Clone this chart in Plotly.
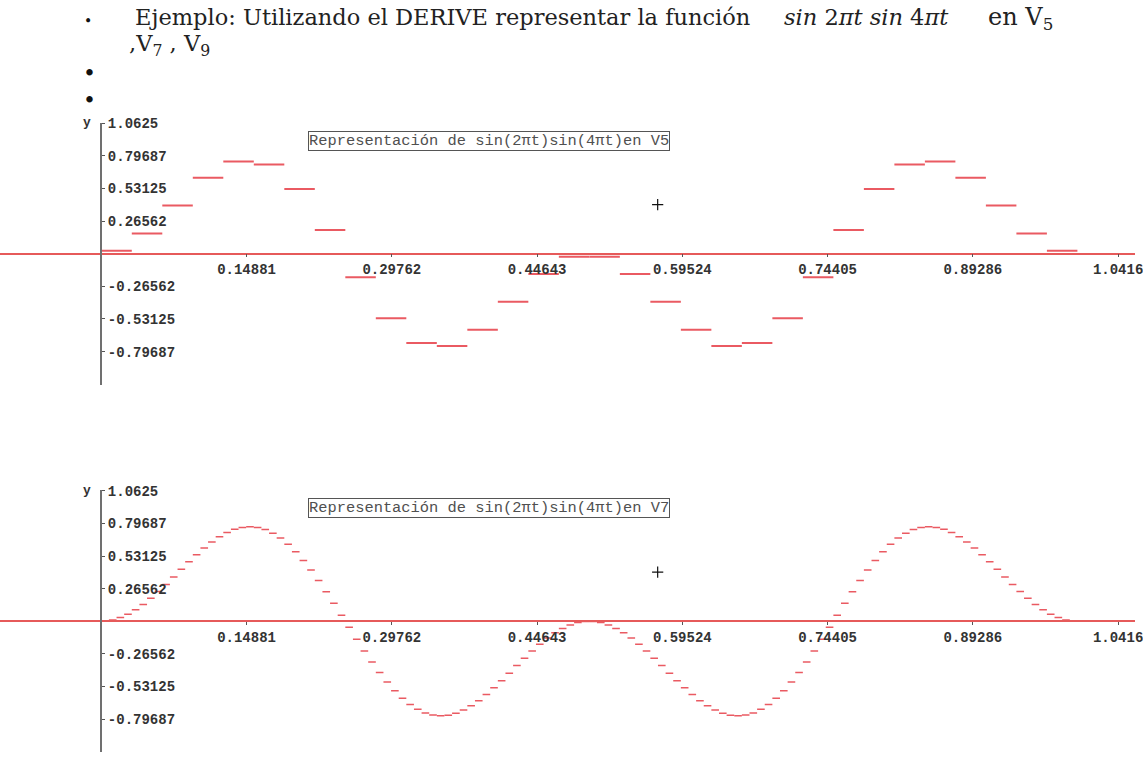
import plotly.graph_objects as go

W, H = 1143, 757

# ---------------- data ----------------
x_ticks = [0.14881, 0.29762, 0.44643, 0.59524, 0.74405, 0.89286, 1.04167]
x_tick_labels = ["0.14881", "0.29762", "0.44643", "0.59524", "0.74405", "0.89286", "1.0416"]
y_ticks = [1.0625, 0.79687, 0.53125, 0.26562, -0.26562, -0.53125, -0.79687]
y_tick_labels = ["1.0625", "0.79687", "0.53125", "0.26562", "-0.26562", "-0.53125", "-0.79687"]

v5_values = [0.025, 0.165, 0.392, 0.618, 0.751, 0.726, 0.526, 0.192,
             -0.192, -0.526, -0.726, -0.751, -0.618, -0.392, -0.165, -0.025,
             -0.025, -0.165, -0.392, -0.618, -0.751, -0.726, -0.526, -0.192,
             0.192, 0.526, 0.726, 0.751, 0.618, 0.392, 0.165, 0.025]

v7_values = [0.002, 0.011, 0.030, 0.058, 0.094, 0.137, 0.187, 0.242,
             0.300, 0.361, 0.423, 0.484, 0.542, 0.597, 0.646, 0.688,
             0.723, 0.749, 0.764, 0.769, 0.763, 0.746, 0.717, 0.677,
             0.626, 0.565, 0.495, 0.417, 0.332, 0.241, 0.146, 0.049,
             -0.049, -0.146, -0.241, -0.332, -0.417, -0.495, -0.565, -0.626,
             -0.677, -0.717, -0.746, -0.763, -0.769, -0.764, -0.749, -0.723,
             -0.688, -0.646, -0.597, -0.542, -0.484, -0.423, -0.361, -0.300,
             -0.242, -0.187, -0.137, -0.094, -0.058, -0.030, -0.011, -0.002,
             -0.002, -0.011, -0.030, -0.058, -0.094, -0.137, -0.187, -0.242,
             -0.300, -0.361, -0.423, -0.484, -0.542, -0.597, -0.646, -0.688,
             -0.723, -0.749, -0.764, -0.769, -0.763, -0.746, -0.717, -0.677,
             -0.626, -0.565, -0.495, -0.417, -0.332, -0.241, -0.146, -0.049,
             0.049, 0.146, 0.241, 0.332, 0.417, 0.495, 0.565, 0.626,
             0.677, 0.717, 0.746, 0.763, 0.769, 0.764, 0.749, 0.723,
             0.688, 0.646, 0.597, 0.542, 0.484, 0.423, 0.361, 0.300,
             0.242, 0.187, 0.137, 0.094, 0.058, 0.030, 0.011, 0.002]

cursor_x = [0.570]
cursor_y_top = [0.40]
cursor_y_bottom = [0.40]

titles = ["Representación de sin(2πt)sin(4πt)en V5",
          "Representación de sin(2πt)sin(4πt)en V7"]

header_text = "Ejemplo: Utilizando el DERIVE representar la función"
header_math = "<i>sin</i> 2<i>πt</i> <i>sin</i> 4<i>πt</i>"
header_tail = "en V<sub>5</sub>"
header_line2 = ",V<sub>7</sub> , V<sub>9</sub>"

# ---------------- geometry ----------------
PX_PER_X = 983.0
X0_PX = 102.0
PX_PER_Y = 124.0
YR = 1.066
zero_px = [249.0, 620.0]

x_range = [-X0_PX / PX_PER_X, (W - X0_PX) / PX_PER_X]


def px(p):
    return p / W


def py(p):
    return 1 - p / H


def steps(values):
    n = len(values)
    xs, ys = [], []
    for k, v in enumerate(values):
        xs += [k / n, (k + 1) / n, None]
        ys += [v, v, None]
    return xs, ys


STEP_COLOR = "#ea5a62"
AXIS_RED = "#e65a5a"
TICK_FONT = dict(family="Liberation Mono", size=14, color="#333333", weight="bold")

fig = go.Figure()

for i, (vals, cy, lw) in enumerate([(v5_values, cursor_y_top, 2), (v7_values, cursor_y_bottom, 1.5)]):
    sfx = "" if i == 0 else "2"
    xs, ys = steps(vals)
    fig.add_trace(go.Scatter(x=xs, y=ys, mode="lines", line=dict(color=STEP_COLOR, width=lw),
                             xaxis="x" + sfx, yaxis="y" + sfx, showlegend=False, hoverinfo="skip"))
    fig.add_trace(go.Scatter(x=cursor_x, y=cy, mode="markers",
                             marker=dict(symbol="cross-thin", size=8, line=dict(width=1.2, color="#111")),
                             xaxis="x" + sfx, yaxis="y" + sfx, showlegend=False, hoverinfo="skip"))

layout = dict(width=W, height=H, margin=dict(l=0, r=0, t=0, b=0),
              paper_bgcolor="white", plot_bgcolor="white", showlegend=False)

for i in range(2):
    sfx = "" if i == 0 else "2"
    z = zero_px[i]
    dom = [py(z + YR * PX_PER_Y), py(z - YR * PX_PER_Y)]
    layout["yaxis" + sfx] = dict(domain=dom, range=[-YR, YR], anchor="free", position=px(X0_PX),
                                 side="right", showline=True, linecolor="#707070", linewidth=1.5,
                                 ticks="outside", ticklen=3, tickcolor="#555", tickmode="array",
                                 tickvals=y_ticks, ticktext=y_tick_labels, tickfont=TICK_FONT,
                                 showgrid=False, zeroline=False, fixedrange=True)
    layout["xaxis" + sfx] = dict(domain=[0, 1], range=x_range, anchor="free", position=py(z),
                                 showline=True, linecolor=AXIS_RED, linewidth=1.5,
                                 ticks="outside", ticklen=3, tickcolor="#555", tickmode="array",
                                 tickvals=x_ticks, ticktext=x_tick_labels, tickfont=TICK_FONT,
                                 ticklabeloverflow="allow",
                                 showgrid=False, zeroline=False, fixedrange=True)

annotations = []
for i in range(2):
    z = zero_px[i]
    annotations.append(dict(x=px(310), y=py(z - 114), xref="paper", yref="paper", xanchor="left",
                            yanchor="middle", text=titles[i], showarrow=False,
                            font=dict(family="Liberation Mono", size=15.4, color="#505050"),
                            bordercolor="#555", borderwidth=1, borderpad=0, bgcolor="white"))
    annotations.append(dict(x=px(88), y=py(z - 132), xref="paper", yref="paper", xanchor="center",
                            yanchor="middle", text="y", showarrow=False,
                            font=dict(family="Liberation Mono", size=13, color="#333", weight="bold")))

SERIF = "DejaVu Serif"
annotations.append(dict(x=px(134), y=py(10), xref="paper", yref="paper", xanchor="left", yanchor="middle",
                        text=header_text, showarrow=False, font=dict(family=SERIF, size=22.5, color="#222")))
annotations.append(dict(x=px(788), y=py(10), xref="paper", yref="paper", xanchor="left", yanchor="middle",
                        text=header_math, showarrow=False, font=dict(family=SERIF, size=22.5, color="#222")))
annotations.append(dict(x=px(993), y=py(12), xref="paper", yref="paper", xanchor="left", yanchor="middle",
                        text=header_tail, showarrow=False, font=dict(family=SERIF, size=24, color="#222")))
annotations.append(dict(x=px(128), y=py(38), xref="paper", yref="paper", xanchor="left", yanchor="middle",
                        text=header_line2, showarrow=False, font=dict(family=SERIF, size=22.5, color="#222")))
for (bx, by, bs) in [(89, 14, 14), (90, 67, 22), (90, 94, 22)]:
    annotations.append(dict(x=px(bx), y=py(by), xref="paper", yref="paper", xanchor="center", yanchor="middle",
                            text="•", showarrow=False, font=dict(family=SERIF, size=bs, color="#111")))

layout["annotations"] = annotations
fig.update_layout(**layout)
fig.write_html("out.html", config={"displayModeBar": False},
               post_script="document.body.style.margin='0';")
